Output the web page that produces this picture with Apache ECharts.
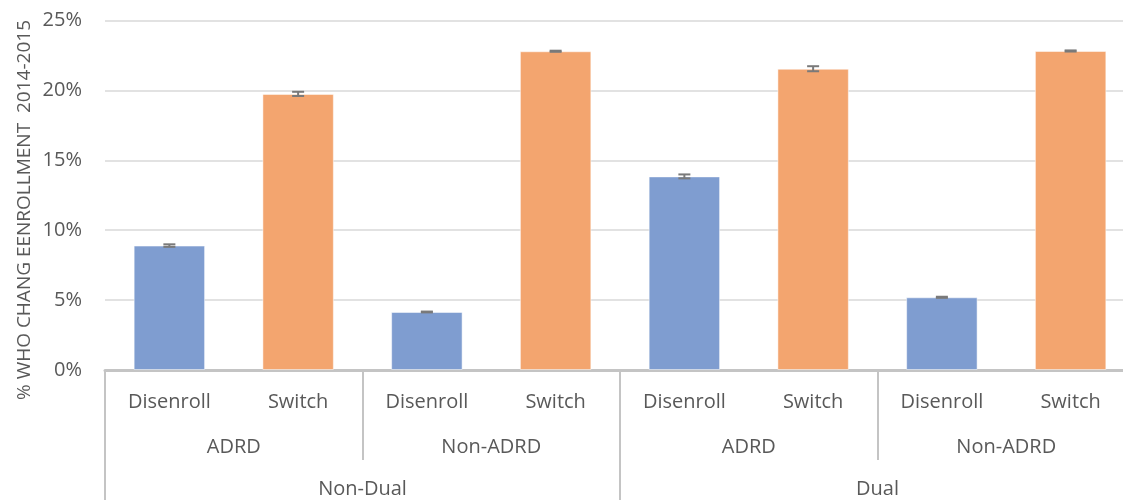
<!DOCTYPE html>
<html><head><meta charset="utf-8">
<script src="https://cdn.jsdelivr.net/npm/echarts@6/dist/echarts.min.js"></script>
<style>html,body{margin:0;padding:0;background:#fff;overflow:hidden}#c{width:1135px;height:500px}</style>
</head><body><div id="c"></div>
<script>
const level1 = ['Disenroll','Switch','Disenroll','Switch','Disenroll','Switch','Disenroll','Switch'];
const level2 = ['ADRD','Non-ADRD','ADRD','Non-ADRD'];
const level3 = ['Non-Dual','Dual'];
const values = [8.9, 19.75, 4.15, 22.8, 13.85, 21.55, 5.2, 22.82];
const errors = [0.09, 0.15, 0.03, 0.04, 0.14, 0.18, 0.04, 0.04];
const yTicks = [0,5,10,15,20,25];
const yName = '% WHO CHANG EENROLLMENT  2014-2015';
const colors = {Disenroll:'#7f9dd0', Switch:'#f3a56f'};
const textColor = '#595959';
const font = 'Open Sans';

const chart = echarts.init(document.getElementById('c'));
const barData = values.map((v,i)=>({value:v,itemStyle:{color:colors[level1[i]]}}));
const errData = values.map((v,i)=>[i, v-errors[i], v+errors[i]]);
chart.setOption({
  animation:false,
  grid:{left:105,right:0,top:20.5,bottom:130},
  xAxis:[
    {type:'category',data:level1,position:'bottom',
     axisLine:{show:true,lineStyle:{color:'#c4c4c4',width:3}},
     axisTick:{show:false},
     axisLabel:{margin:22,fontSize:20,fontFamily:font,color:textColor}},
    {type:'category',data:level2,position:'bottom',offset:0,
     axisLine:{show:false},
     axisTick:{show:true,length:90,lineStyle:{color:'#c4c4c4',width:2}},
     axisLabel:{margin:67,fontSize:20,fontFamily:font,color:textColor}},
    {type:'category',data:level3,position:'bottom',offset:0,
     axisLine:{show:false},
     axisTick:{show:true,length:132,lineStyle:{color:'#c4c4c4',width:2}},
     axisLabel:{margin:109,fontSize:20,fontFamily:font,color:textColor}}
  ],
  yAxis:{type:'value',min:0,max:25,interval:5,
    axisLine:{show:false},axisTick:{show:false},
    splitLine:{lineStyle:{color:'#d9d9d9',width:1.5}},
    axisLabel:{margin:23,fontSize:20,fontFamily:font,color:textColor,
      formatter:v=>yTicks.includes(v)?v+'%':''}},
  graphic:[{type:'text',x:25,y:210,rotation:Math.PI/2,
    style:{text:yName,font:'19px "Open Sans"',fill:textColor,align:'center',verticalAlign:'middle'}}],
  series:[
    {type:'bar',data:barData,barWidth:'55.5%',xAxisIndex:0,
     itemStyle:{borderColor:'rgba(255,255,255,0.5)',borderWidth:1}},
    {type:'custom',xAxisIndex:0,yAxisIndex:0,data:errData,z:10,
     renderItem:(params,api)=>{
       const lo=api.coord([api.value(0),api.value(1)]);
       const hi=api.coord([api.value(0),api.value(2)]);
       const w=6;
       const st={stroke:'#7a7a7a',lineWidth:2};
       return {type:'group',children:[
         {type:'line',shape:{x1:lo[0],y1:lo[1],x2:hi[0],y2:hi[1]},style:st},
         {type:'line',shape:{x1:lo[0]-w,y1:lo[1],x2:lo[0]+w,y2:lo[1]},style:st},
         {type:'line',shape:{x1:hi[0]-w,y1:hi[1],x2:hi[0]+w,y2:hi[1]},style:st}
       ]};
     }}
  ]
});
</script></body></html>
